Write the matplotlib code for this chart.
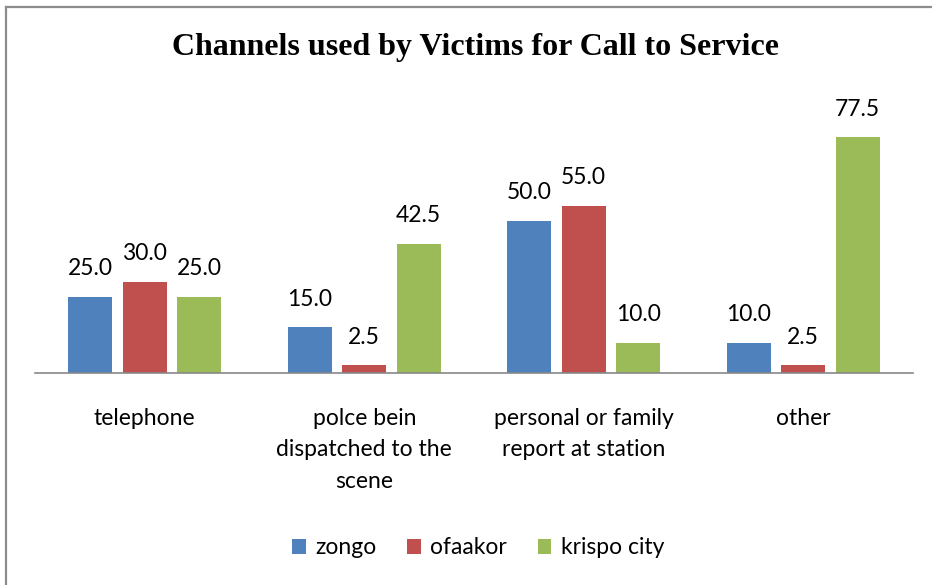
import matplotlib
matplotlib.use("Agg")
import matplotlib.pyplot as plt
from matplotlib.lines import Line2D
import numpy as np

categories = ["telephone", "polce bein\ndispatched to the\nscene",
              "personal or family\nreport at station", "other"]
series_names = ["zongo", "ofaakor", "krispo city"]
zongo = [25.0, 15.0, 50.0, 10.0]
ofaakor = [30.0, 2.5, 55.0, 2.5]
krispo_city = [25.0, 42.5, 10.0, 77.5]
colors = ["#4F81BD", "#C0504D", "#9BBB59"]

W, H = 932, 585
fig = plt.figure(figsize=(W / 100, H / 100), dpi=100)

# chart border (gray, left/top visible)
fig.add_artist(Line2D([6 / W, 6 / W], [0, 1 - 7 / H], transform=fig.transFigure,
                      color="#8C8C8C", lw=1.6))
fig.add_artist(Line2D([6 / W, 1], [1 - 7 / H, 1 - 7 / H], transform=fig.transFigure,
                      color="#8C8C8C", lw=1.6))

left, right, bottom, top = 35, 913, 373, 69
ax = fig.add_axes([left / W, 1 - bottom / H, (right - left) / W, (bottom - top) / H])
ax.set_xlim(0, 4)
ax.set_ylim(0, 100)

x = np.arange(len(categories)) + 0.5
step = 54.5 / 219.5
bw = 44 / 219.5
data = [zongo, ofaakor, krispo_city]
font = "Lato"
for i, (vals, name, c) in enumerate(zip(data, series_names, colors)):
    pos = x + (i - 1) * step
    ax.bar(pos, vals, width=bw, color=c, label=name, zorder=2)
    for p, v in zip(pos, vals):
        ax.text(p, v + 5.8, f"{v:.1f}", ha="center", va="bottom",
                fontsize=16.5, family=font, color="#000000")

for s in ["top", "right", "left"]:
    ax.spines[s].set_visible(False)
ax.spines["bottom"].set_color("#888888")
ax.spines["bottom"].set_linewidth(1.2)
ax.set_yticks([])
ax.set_xticks(x)
ax.set_xticklabels(categories, fontsize=16.5, family=font, linespacing=1.62,
                   va="top")
ax.tick_params(axis="x", length=0, pad=25)

fig.text(476 / W, 1 - 47 / H, "Channels used by Victims for Call to Service",
         ha="center", va="center", fontsize=23, fontweight="bold",
         family="Liberation Serif")

fig.legend(loc="center", bbox_to_anchor=(478 / W, 1 - 548 / H), ncol=3,
           frameon=False, prop={"family": font, "size": 16.5},
           handlelength=0.6, handleheight=0.6, handletextpad=0.4,
           columnspacing=1.35)

fig.savefig("out.png", dpi=100)
